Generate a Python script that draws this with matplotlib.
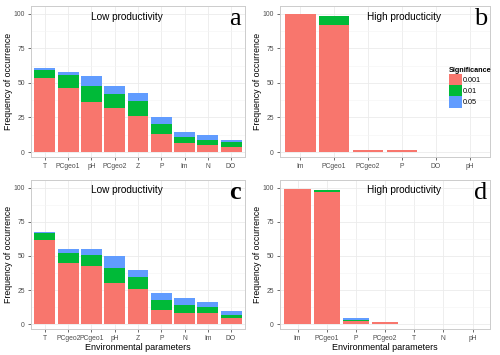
import matplotlib
matplotlib.use("Agg")
import matplotlib.pyplot as plt
import numpy as np

plt.rcParams["font.family"] = ["Liberation Sans", "DejaVu Sans"]

COLORS = ["#F8766D", "#00BA38", "#619CFF"]
SIG_LEVELS = ["0.001", "0.01", "0.05"]

# panel a: low productivity
a_cats = ["T", "PCgeo1", "pH", "PCgeo2", "Z", "P", "Im", "N", "DO"]
a_001 = [53.5, 46.5, 36, 32, 26, 13, 6.5, 5, 4]
a_01 = [6, 9, 12, 10, 11, 7, 4.5, 4, 3.5]
a_05 = [1.5, 2.5, 7, 6, 6, 5.5, 3.5, 3, 1.5]

# panel b: high productivity
b_cats = ["Im", "PCgeo1", "PCgeo2", "P", "DO", "pH"]
b_001 = [99.5, 92, 1.5, 1.2, 0, 0]
b_01 = [0, 6.5, 0, 0, 0.4, 0]
b_05 = [0, 0, 0, 0, 0, 0.4]

# panel c: low productivity
c_cats = ["T", "PCgeo2", "PCgeo1", "pH", "Z", "P", "N", "Im", "DO"]
c_001 = [61.5, 45, 42.5, 30, 25.5, 10.5, 8, 8, 4.5]
c_01 = [5, 7, 8.5, 11, 9, 7, 6, 4.5, 2.5]
c_05 = [1, 3, 4, 9, 5.5, 5.5, 5.5, 3.5, 3]

# panel d: high productivity
d_cats = ["Im", "PCgeo1", "P", "PCgeo2", "T", "N", "pH"]
d_001 = [98.8, 96.5, 2.5, 1.5, 0.3, 0, 0]
d_01 = [0, 1.5, 1, 0, 0, 0.3, 0.3]
d_05 = [0, 0, 1, 0, 0, 0, 0]


def draw(ax, cats, s1, s2, s3, title, title_x, letter, letter_bold, xlabel):
    x = np.arange(len(cats))
    s1 = np.array(s1)
    s2 = np.array(s2)
    s3 = np.array(s3)
    ax.bar(x, s1, width=0.9, color=COLORS[0], zorder=3)
    ax.bar(x, s2, width=0.9, bottom=s1, color=COLORS[1], zorder=3)
    ax.bar(x, s3, width=0.9, bottom=s1 + s2, color=COLORS[2], zorder=3)
    ax.set_xlim(-0.6, len(cats) - 0.4)
    ax.set_ylim(-3.5, 105.5)
    ax.set_xticks(x)
    ax.set_xticklabels(cats)
    ax.set_yticks([0, 25, 50, 75, 100])
    ax.set_yticks([12.5, 37.5, 62.5, 87.5], minor=True)
    ax.grid(True, which="major", color="#ebebeb", linewidth=0.6, zorder=0)
    ax.grid(True, which="minor", axis="y", color="#f4f4f4", linewidth=0.4, zorder=0)
    ax.tick_params(axis="both", which="major", length=2.5, width=0.6, color="#555555",
                   labelsize=4.9, labelcolor="#4d4d4d", pad=2)
    ax.tick_params(axis="y", which="minor", length=0)
    for sp in ax.spines.values():
        sp.set_color("#cccccc")
        sp.set_linewidth(0.7)
    ax.set_ylabel("Frequency of occurrence", fontsize=6.3)
    ax.yaxis.set_label_coords(-0.085, 0.5)
    if xlabel:
        ax.set_xlabel(xlabel, fontsize=6.5, labelpad=0.5)
    ax.text(title_x, 0.93, title, transform=ax.transAxes, fontsize=7.2, ha="center", va="center")
    ax.text(0.955, 0.915, letter, transform=ax.transAxes, fontsize=19, ha="center", va="center",
            family=["Liberation Serif", "DejaVu Serif"],
            fontweight="bold" if letter_bold else "normal")


fig = plt.figure(figsize=(5, 3.55), dpi=100)
ax_a = fig.add_axes([0.062, 0.558, 0.428, 0.425])
ax_b = fig.add_axes([0.560, 0.558, 0.420, 0.425])
ax_c = fig.add_axes([0.062, 0.073, 0.428, 0.420])
ax_d = fig.add_axes([0.560, 0.073, 0.420, 0.420])

draw(ax_a, a_cats, a_001, a_01, a_05, "Low productivity", 0.45, "a", False, None)
draw(ax_b, b_cats, b_001, b_01, b_05, "High producticity", 0.59, "b", False, None)
draw(ax_c, c_cats, c_001, c_01, c_05, "Low productivity", 0.45, "c", True, "Environmental parameters")
draw(ax_d, d_cats, d_001, d_01, d_05, "High productivity", 0.59, "d", False, "Environmental parameters")

# legend in panel b
handles = [plt.Rectangle((0, 0), 1, 1, facecolor=c, edgecolor="none") for c in COLORS]
leg = ax_b.legend(handles, SIG_LEVELS, title="Significance", loc="upper left",
                  bbox_to_anchor=(0.8, 0.6), frameon=False, fontsize=5.2,
                  title_fontproperties={"size": 5.2, "weight": "bold"},
                  handlelength=1.8, handleheight=2.0, handletextpad=0.15,
                  labelspacing=0.0, borderpad=0.1, borderaxespad=0)
leg._legend_box.align = "left"

fig.savefig("out.png", dpi=100)
